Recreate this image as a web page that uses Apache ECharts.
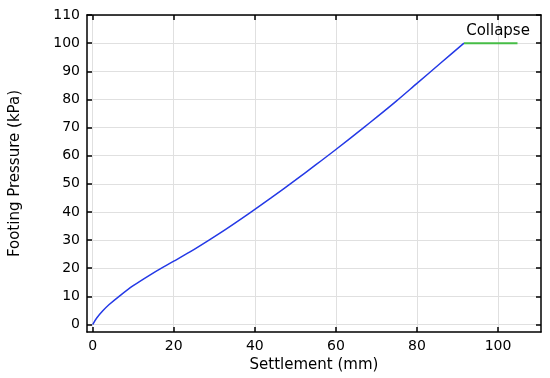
<!DOCTYPE html>
<html>
<head>
<meta charset="utf-8">
<script src="https://cdn.jsdelivr.net/npm/echarts@6/dist/echarts.min.js"></script>
<style>
  html, body { margin: 0; padding: 0; background: #fff; }
  #chart { width: 550px; height: 378px; }
</style>
</head>
<body>
<div id="chart"></div>
<script>
// settlement (mm) vs footing pressure (kPa)
var settlement = [0, 1, 2.5, 4, 6.6, 10, 14, 17.5, 20, 24, 28.8, 33, 38.7, 44, 50, 55, 60, 66.7, 70, 74.9, 80, 86, 91.6];
var pressure   = [0, 2.3, 4.85, 7.0, 10.1, 13.8, 17.5, 20.5, 22.5, 25.8, 30.1, 34.0, 39.6, 45.0, 51.3, 56.7, 62.2, 69.8, 73.6, 79.4, 85.7, 93.1, 100];
// collapse plateau
var collapseX = [91.6, 104.8];
var collapseY = [100, 100];
var collapseLabel = 'Collapse';

var xTicks = [0, 20, 40, 60, 80, 100];
var yTicks = [0, 10, 20, 30, 40, 50, 60, 70, 80, 90, 100, 110];

var font = 'DejaVu Sans';

function pairs(xs, ys) {
  return xs.map(function (x, i) { return [x, ys[i]]; });
}

function axisBase(pos, showLabel, ticks, extra) {
  var a = {
    type: 'value',
    position: pos,
    axisLine: { show: true, onZero: false, lineStyle: { color: '#000', width: 1.5 } },
    axisTick: { show: true, inside: true, length: 5, lineStyle: { color: '#000', width: 1.5 }, customValues: ticks },
    axisLabel: { show: showLabel, customValues: ticks, color: '#000', fontFamily: font, fontSize: 14, margin: 7 },
    splitLine: { show: showLabel, lineStyle: { color: '#e0e0e0', width: 1 } }
  };
  for (var k in extra) a[k] = extra[k];
  return a;
}

var chart = echarts.init(document.getElementById('chart'));
chart.setOption({
  animation: false,
  grid: { left: 87, right: 9, top: 15, bottom: 42, containLabel: false },
  xAxis: [
    axisBase('bottom', true, xTicks, {
      min: -1.4, max: 110.6,
      name: 'Settlement (mm)', nameLocation: 'middle', nameGap: 22,
      nameTextStyle: { color: '#000', fontFamily: font, fontSize: 15 }
    }),
    axisBase('top', false, xTicks, { min: -1.4, max: 110.6 })
  ],
  yAxis: [
    axisBase('left', true, yTicks, {
      min: -2.7, max: 110,
      name: 'Footing Pressure (kPa)', nameLocation: 'middle', nameGap: 64,
      nameTextStyle: { color: '#000', fontFamily: font, fontSize: 15 }
    }),
    axisBase('right', false, yTicks, { min: -2.7, max: 110 })
  ],
  series: [
    {
      type: 'line',
      data: pairs(settlement, pressure),
      smooth: 0.3,
      showSymbol: false,
      lineStyle: { color: '#2439e6', width: 1.5 }
    },
    {
      type: 'line',
      data: pairs(collapseX, collapseY),
      showSymbol: false,
      lineStyle: { color: '#46bd46', width: 2 },
      markPoint: {
        symbol: 'circle',
        symbolSize: 0,
        data: [{ coord: [100, 100] }],
        label: {
          show: true,
          formatter: collapseLabel,
          position: 'top',
          distance: 5,
          color: '#000',
          fontFamily: font,
          fontSize: 15
        }
      }
    }
  ]
});
</script>
</body>
</html>
